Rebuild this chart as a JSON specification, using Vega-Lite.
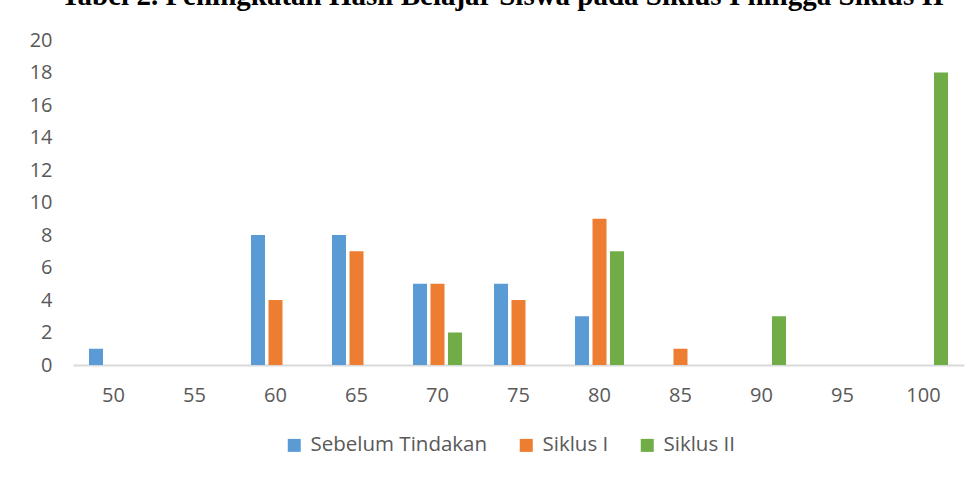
{
  "$schema": "https://vega.github.io/schema/vega-lite/v6.json",
  "width": 891,
  "height": 325,
  "autosize": {"type": "none"},
  "padding": {"left": 73, "top": 40, "right": 16, "bottom": 115},
  "background": "white",
  "config": {"view": {"stroke": null}},
  "title": {
    "text": "Tabel 2. Peningkatan Hasil Belajar Siswa pada Siklus I hingga Siklus II",
    "font": "Liberation Serif",
    "fontSize": 29,
    "fontWeight": "bold",
    "color": "#000000",
    "anchor": "middle",
    "frame": "group",
    "baseline": "alphabetic",
    "offset": -4,
    "dx": -16
  },
  "data": {
    "values": [
      {"nilai": "50", "kelompok": "Sebelum Tindakan", "jumlah": 1},
      {"nilai": "60", "kelompok": "Sebelum Tindakan", "jumlah": 8},
      {"nilai": "65", "kelompok": "Sebelum Tindakan", "jumlah": 8},
      {"nilai": "70", "kelompok": "Sebelum Tindakan", "jumlah": 5},
      {"nilai": "75", "kelompok": "Sebelum Tindakan", "jumlah": 5},
      {"nilai": "80", "kelompok": "Sebelum Tindakan", "jumlah": 3},
      {"nilai": "60", "kelompok": "Siklus I", "jumlah": 4},
      {"nilai": "65", "kelompok": "Siklus I", "jumlah": 7},
      {"nilai": "70", "kelompok": "Siklus I", "jumlah": 5},
      {"nilai": "75", "kelompok": "Siklus I", "jumlah": 4},
      {"nilai": "80", "kelompok": "Siklus I", "jumlah": 9},
      {"nilai": "85", "kelompok": "Siklus I", "jumlah": 1},
      {"nilai": "70", "kelompok": "Siklus II", "jumlah": 2},
      {"nilai": "80", "kelompok": "Siklus II", "jumlah": 7},
      {"nilai": "90", "kelompok": "Siklus II", "jumlah": 3},
      {"nilai": "100", "kelompok": "Siklus II", "jumlah": 18}
    ]
  },
  "mark": {"type": "bar"},
  "encoding": {
    "x": {
      "field": "nilai",
      "type": "nominal",
      "sort": ["50", "55", "60", "65", "70", "75", "80", "85", "90", "95", "100"],
      "scale": {
        "domain": ["50", "55", "60", "65", "70", "75", "80", "85", "90", "95", "100"],
        "paddingInner": 0.395,
        "paddingOuter": 0.1975
      },
      "axis": {
        "title": null,
        "labelAngle": 0,
        "labelFont": "Open Sans",
        "labelFontSize": 20,
        "labelColor": "#595959",
        "labelPadding": 20,
        "ticks": false,
        "domain": true,
        "domainColor": "#d9d9d9",
        "domainWidth": 2,
        "grid": false
      }
    },
    "xOffset": {
      "field": "kelompok",
      "type": "nominal",
      "scale": {
        "domain": ["Sebelum Tindakan", "Siklus I", "Siklus II"],
        "paddingInner": 0.2,
        "paddingOuter": 0
      }
    },
    "y": {
      "field": "jumlah",
      "type": "quantitative",
      "scale": {"domain": [0, 20], "nice": false},
      "axis": {
        "title": null,
        "values": [0, 2, 4, 6, 8, 10, 12, 14, 16, 18, 20],
        "labelFont": "Open Sans",
        "labelFontSize": 20,
        "labelColor": "#595959",
        "labelPadding": 21,
        "ticks": false,
        "domain": false,
        "grid": false
      }
    },
    "color": {
      "field": "kelompok",
      "type": "nominal",
      "scale": {
        "domain": ["Sebelum Tindakan", "Siklus I", "Siklus II"],
        "range": ["#5b9bd5", "#ed7d31", "#70ad47"]
      },
      "legend": {
        "title": null,
        "orient": "none",
        "direction": "horizontal",
        "legendX": 211,
        "legendY": 395,
        "symbolType": "square",
        "symbolSize": 169,
        "symbolStrokeWidth": 0,
        "labelFont": "Open Sans",
        "labelFontSize": 20.5,
        "labelColor": "#595959",
        "labelLimit": 400,
        "labelOffset": 6,
        "columnPadding": 28
      }
    }
  }
}
